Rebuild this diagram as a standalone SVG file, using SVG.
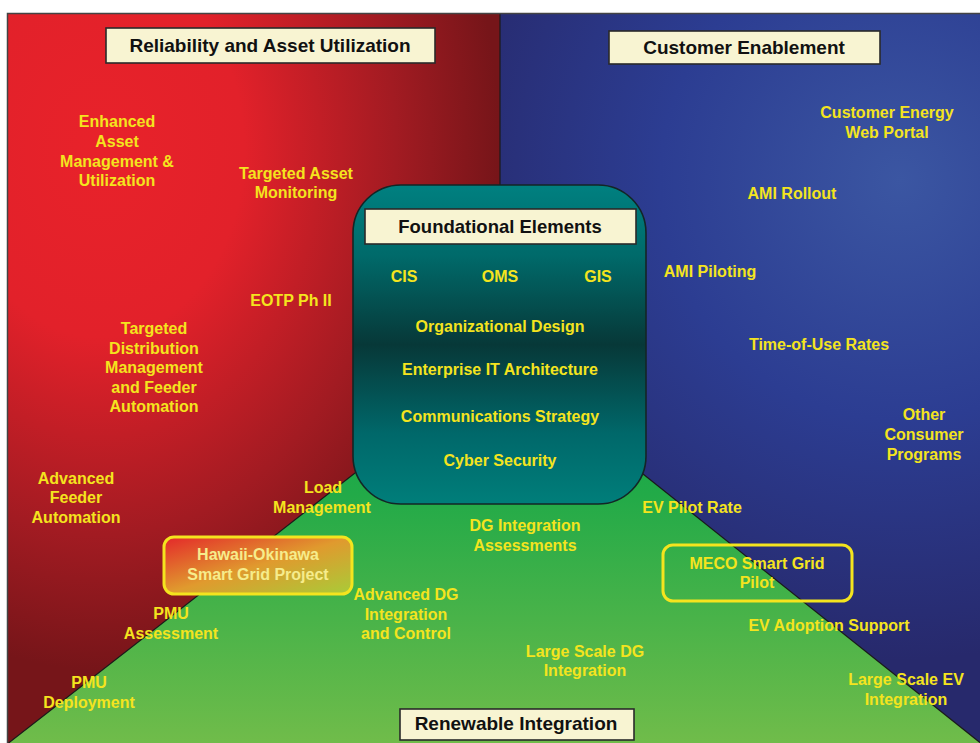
<svg xmlns="http://www.w3.org/2000/svg" width="980" height="743" viewBox="0 0 980 743">
<defs>
<radialGradient id="gRed" gradientUnits="userSpaceOnUse" cx="100" cy="150" r="400" gradientTransform="translate(100,150) scale(1,1.3) translate(-100,-150)">
<stop offset="0" stop-color="#e8222a"/>
<stop offset="0.36" stop-color="#e2212a"/>
<stop offset="0.74" stop-color="#a21b22"/>
<stop offset="1" stop-color="#761519"/>
</radialGradient>
<radialGradient id="gBlue" gradientUnits="userSpaceOnUse" cx="900" cy="180" r="480">
<stop offset="0" stop-color="#3b56a2"/>
<stop offset="0.5" stop-color="#2c3d92"/>
<stop offset="1" stop-color="#27296c"/>
</radialGradient>
<linearGradient id="gGreen" gradientUnits="userSpaceOnUse" x1="0" y1="360" x2="0" y2="743">
<stop offset="0" stop-color="#0ea64a"/>
<stop offset="0.35" stop-color="#22aa48"/>
<stop offset="1" stop-color="#70bc4a"/>
</linearGradient>
<linearGradient id="gTeal" x1="0" y1="0" x2="0" y2="1">
<stop offset="0" stop-color="#008080"/>
<stop offset="0.22" stop-color="#006a6a"/>
<stop offset="0.5" stop-color="#073838"/>
<stop offset="0.78" stop-color="#00686a"/>
<stop offset="1" stop-color="#007e7a"/>
</linearGradient>
<linearGradient id="gHawaii" x1="0" y1="0" x2="1" y2="1">
<stop offset="0" stop-color="#e4272a"/>
<stop offset="0.5" stop-color="#e09a2e"/>
<stop offset="1" stop-color="#a8cc38"/>
</linearGradient>
<style>
.t{font-family:"Liberation Sans",Arial,sans-serif;font-weight:bold;font-size:16px;fill:#f4e41e;text-anchor:middle}
.h{font-family:"Liberation Sans",Arial,sans-serif;font-weight:bold;font-size:19px;fill:#111;text-anchor:middle}
.lbl{fill:#f8f4d2;stroke:#2a2a2a;stroke-width:1.6}
.hl{fill:none;stroke:#f4e41e;stroke-width:3}
.div{stroke:#1a1a1a;stroke-width:1.2;fill:none}
</style>
</defs>

<rect x="0" y="0" width="980" height="743" fill="#ffffff"/>

<g id="background">
<rect x="8" y="13" width="492" height="730" fill="url(#gRed)"/>
<rect x="500" y="13" width="480" height="730" fill="url(#gBlue)"/>
<polygon points="6,745 500,360 983,745" fill="url(#gGreen)"/>
</g>

<g id="dividers">
<polyline class="div" points="6,745 500,360 983,745"/>
<line class="div" x1="500" y1="13" x2="500" y2="360"/>
<polyline points="7.5,743 7.5,13.5 980,13.5" fill="none" stroke="#444" stroke-width="1.5"/>
</g>

<g id="reliability-title">
<rect class="lbl" x="106" y="28" width="329" height="35"/>
<text class="h" x="270" y="52">Reliability and Asset Utilization</text>
</g>
<g id="customer-title">
<rect class="lbl" x="609" y="31" width="271" height="33"/>
<text class="h" x="744" y="54">Customer Enablement</text>
</g>

<g id="foundational">
<rect x="353" y="185" width="293" height="319" rx="48" ry="48" fill="url(#gTeal)" stroke="#132626" stroke-width="1.6"/>
<rect class="lbl" x="365" y="209" width="271" height="35"/>
<text class="h" x="500" y="233" style="font-size:18.5px">Foundational Elements</text>
<text class="t" x="404" y="282">CIS</text>
<text class="t" x="500" y="282">OMS</text>
<text class="t" x="598" y="282">GIS</text>
<text class="t" x="500" y="332">Organizational Design</text>
<text class="t" x="500" y="375">Enterprise IT Architecture</text>
<text class="t" x="500" y="422">Communications Strategy</text>
<text class="t" x="500" y="466">Cyber Security</text>
</g>

<g id="renewable-title">
<rect class="lbl" x="400" y="709" width="234" height="31"/>
<text class="h" x="516" y="730">Renewable Integration</text>
</g>

<g id="enhanced-asset">
<text class="t" x="117" y="127">Enhanced</text>
<text class="t" x="117" y="147">Asset</text>
<text class="t" x="117" y="167">Management &amp;</text>
<text class="t" x="117" y="186">Utilization</text>
</g>
<g id="targeted-asset">
<text class="t" x="296" y="179">Targeted Asset</text>
<text class="t" x="296" y="198">Monitoring</text>
</g>
<g id="eotp"><text class="t" x="291" y="306">EOTP Ph II</text></g>
<g id="targeted-distribution">
<text class="t" x="154" y="334">Targeted</text>
<text class="t" x="154" y="354">Distribution</text>
<text class="t" x="154" y="373">Management</text>
<text class="t" x="154" y="393">and Feeder</text>
<text class="t" x="154" y="412">Automation</text>
</g>
<g id="advanced-feeder">
<text class="t" x="76" y="484">Advanced</text>
<text class="t" x="76" y="503">Feeder</text>
<text class="t" x="76" y="523">Automation</text>
</g>
<g id="load-management">
<text class="t" x="323" y="493">Load</text>
<text class="t" x="322" y="513">Management</text>
</g>
<g id="hawaii-okinawa">
<rect x="164" y="537" width="188" height="57" rx="10" ry="10" fill="url(#gHawaii)" stroke="#f4e41e" stroke-width="3"/>
<text class="t" x="258" y="560" style="fill:#f6ec8c">Hawaii-Okinawa</text>
<text class="t" x="258" y="580" style="fill:#f6ec8c">Smart Grid Project</text>
</g>
<g id="pmu-assessment">
<text class="t" x="171" y="619">PMU</text>
<text class="t" x="171" y="639">Assessment</text>
</g>
<g id="pmu-deployment">
<text class="t" x="89" y="688">PMU</text>
<text class="t" x="89" y="708">Deployment</text>
</g>
<g id="advanced-dg">
<text class="t" x="406" y="600">Advanced DG</text>
<text class="t" x="406" y="620">Integration</text>
<text class="t" x="406" y="639">and Control</text>
</g>
<g id="dg-assessments">
<text class="t" x="525" y="531">DG Integration</text>
<text class="t" x="525" y="551">Assessments</text>
</g>
<g id="large-scale-dg">
<text class="t" x="585" y="657">Large Scale DG</text>
<text class="t" x="585" y="676">Integration</text>
</g>
<g id="ev-pilot-rate"><text class="t" x="692" y="513">EV Pilot Rate</text></g>
<g id="meco">
<rect class="hl" x="663" y="545" width="189" height="56" rx="10" ry="10"/>
<text class="t" x="757" y="569">MECO Smart Grid</text>
<text class="t" x="757" y="588">Pilot</text>
</g>
<g id="ev-adoption"><text class="t" x="829" y="631">EV Adoption  Support</text></g>
<g id="large-scale-ev">
<text class="t" x="906" y="685">Large Scale EV</text>
<text class="t" x="906" y="705">Integration</text>
</g>
<g id="web-portal">
<text class="t" x="887" y="118">Customer Energy</text>
<text class="t" x="887" y="138">Web Portal</text>
</g>
<g id="ami-rollout"><text class="t" x="792" y="199">AMI Rollout</text></g>
<g id="ami-piloting"><text class="t" x="710" y="277">AMI Piloting</text></g>
<g id="tou-rates"><text class="t" x="819" y="350">Time-of-Use Rates</text></g>
<g id="other-programs">
<text class="t" x="924" y="420">Other</text>
<text class="t" x="924" y="440">Consumer</text>
<text class="t" x="924" y="460">Programs</text>
</g>
<g id="connectors"></g>
</svg>
